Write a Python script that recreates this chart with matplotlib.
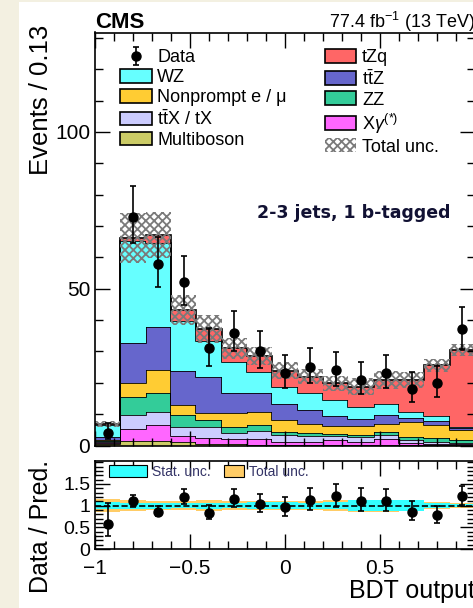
import numpy as np
import matplotlib.pyplot as plt
from matplotlib.patches import Patch, Rectangle
from matplotlib.ticker import MultipleLocator, FixedLocator, FuncFormatter

plt.rcParams['font.family'] = ['Liberation Sans', 'DejaVu Sans']
plt.rcParams['mathtext.fontset'] = 'custom'
plt.rcParams['mathtext.rm'] = 'Liberation Sans'
plt.rcParams['mathtext.it'] = 'Liberation Sans:italic'
plt.rcParams['mathtext.bf'] = 'Liberation Sans:bold'
plt.rcParams['hatch.linewidth'] = 1.3

# 15 bins of BDT output
edges = np.linspace(-1, 1, 16)

# expected yields per process (stacked bottom -> top)
multiboson = [0.4, 1.4, 1.5, 1.1, 0.5, 0.4, 0.3, 0.3, 0.3, 0.3, 0.3, 0.3, 0.2, 0.2, 0.2]
xgamma     = [0.4, 3.8, 5.0, 1.8, 2.0, 1.6, 1.7, 0.9, 0.7, 1.5, 0.9, 1.7, 0.6, 0.3, 0.3]
ttx        = [0.3, 4.4, 4.3, 3.1, 3.3, 2.0, 2.5, 2.0, 2.0, 1.2, 1.6, 1.4, 1.0, 0.5, 0.3]
zz         = [0.3, 5.9, 6.1, 3.6, 2.4, 2.0, 2.0, 1.1, 1.0, 0.6, 0.6, 0.9, 1.0, 1.3, 1.0]
nonprompt  = [0.3, 4.5, 7.2, 3.2, 2.3, 4.4, 4.1, 3.7, 3.0, 2.6, 2.7, 2.7, 4.6, 4.2, 3.2]
ttz        = [1.1, 12.6, 13.8, 11.1, 11.5, 6.3, 6.0, 5.3, 4.3, 3.2, 2.5, 2.7, 1.5, 1.3, 0.5]
wz         = [3.6, 32.6, 26.7, 15.7, 11.2, 9.9, 6.9, 5.2, 5.5, 5.2, 3.6, 3.6, 1.7, 1.7, 0.5]
tzq        = [0.4, 1.0, 2.6, 3.7, 3.9, 4.4, 5.1, 5.4, 5.2, 5.2, 6.6, 7.6, 10.3, 16.1, 24.5]

# observed events with asymmetric (Poisson) errors
data    = np.array([4, 73, 58, 52, 31, 36, 30, 23, 25, 24, 21, 23, 18, 20, 37])
data_dn = np.array([1.9, 8.5, 7.6, 7.2, 5.5, 6.0, 5.4, 4.8, 5.0, 4.9, 4.6, 4.8, 4.2, 4.4, 6.1])
data_up = np.array([3.2, 9.6, 8.6, 8.3, 6.6, 7.0, 6.5, 5.8, 6.0, 5.9, 5.6, 5.8, 5.3, 5.5, 7.1])

# relative uncertainties on the prediction
tot_unc  = np.array([0.15, 0.12, 0.11, 0.11, 0.12, 0.11, 0.10, 0.11, 0.11, 0.12, 0.14, 0.14, 0.12, 0.08, 0.06])
stat_unc = np.array([0.08, 0.07, 0.07, 0.065, 0.07, 0.065, 0.085, 0.08, 0.07, 0.085, 0.12, 0.12, 0.12, 0.05, 0.04])

procs = [
    (multiboson, '#cccc66', 'Multiboson'),
    (xgamma, '#ff66ff', r'X$\gamma^{(*)}$'),
    (ttx, '#ccccff', r't$\bar{\mathrm{t}}$X / tX'),
    (zz, '#33cc99', 'ZZ'),
    (nonprompt, '#ffcc33', 'Nonprompt e / \u03bc'),
    (ttz, '#6666cc', r't$\bar{\mathrm{t}}$Z'),
    (wz, '#66ffff', 'WZ'),
    (tzq, '#ff6666', 'tZq'),
]

W, H = 473, 608
fig = plt.figure(figsize=(W / 100, H / 100), dpi=100)
fig.patch.set_facecolor('#f3f0e1')
fig.add_artist(Rectangle((19 / W, 0), 1, 1 - 2 / H, transform=fig.transFigure,
                         facecolor='white', edgecolor='none', zorder=-10))

ax = fig.add_axes([95 / W, (H - 445.5) / H, 380 / W, 413 / H])
rax = fig.add_axes([95 / W, (H - 549) / H, 380 / W, 88 / H])

bottom = np.zeros(len(edges) - 1)
patches = {}
for vals, col, lab in procs:
    top = bottom + np.array(vals)
    ax.stairs(top, edges, baseline=bottom, fill=True, color=col, lw=0)
    ax.stairs(top, edges, baseline=None, color='black', lw=1.2)
    patches[lab] = Patch(facecolor=col, edgecolor='black', lw=1.2)
    bottom = top
total = bottom

hatch_col = '#7a7a7a'
ax.stairs(total * (1 + tot_unc), edges, baseline=total * (1 - tot_unc), fill=True,
          facecolor='none', edgecolor=hatch_col, hatch='xxxx', lw=0)

centers = 0.5 * (edges[1:] + edges[:-1])
eb = ax.errorbar(centers, data, yerr=[data_dn, data_up], fmt='o', color='black',
                 ms=6.5, lw=1.2, capsize=2.5, capthick=1.2, zorder=5)

ax.set_xlim(-1, 1)
ax.set_ylim(0, 131.7)
ax.yaxis.set_major_locator(MultipleLocator(50))
ax.yaxis.set_minor_locator(MultipleLocator(10))
ax.tick_params(labelbottom=False)

# legends
h1 = [eb, patches['WZ'], patches['Nonprompt e / \u03bc'],
      patches[r't$\bar{\mathrm{t}}$X / tX'], patches['Multiboson']]
l1 = ['Data', 'WZ', 'Nonprompt e / \u03bc', r't$\bar{\mathrm{t}}$X / tX', 'Multiboson']
unc_patch = Patch(facecolor='white', edgecolor=hatch_col, hatch='xxxx', lw=0)
h2 = [patches['tZq'], patches[r't$\bar{\mathrm{t}}$Z'], patches['ZZ'],
      patches[r'X$\gamma^{(*)}$'], unc_patch]
l2 = ['tZq', r't$\bar{\mathrm{t}}$Z', 'ZZ', r'X$\gamma^{(*)}$', 'Total unc.']
legkw = dict(loc='upper left', frameon=False, fontsize=13, borderpad=0, borderaxespad=0,
             handlelength=1.75, handleheight=0.8, handletextpad=0.3, labelspacing=0.16)
leg1 = ax.legend(h1, l1, bbox_to_anchor=(0.066, 0.96), **legkw)
ax.add_artist(leg1)
ax.legend(h2, l2, bbox_to_anchor=(0.605, 0.96), **legkw)

ax.text(0.426, 0.563, '2-3 jets, 1 b-tagged', transform=ax.transAxes, ha='left',
        va='center', fontsize=12.5, fontweight='bold', family='DejaVu Sans', color='#111133')
ax.text(0.0, 1.012, 'CMS', transform=ax.transAxes, ha='left', va='baseline',
        fontsize=16, fontweight='bold')
ax.text(1.0, 1.011, r'77.4 fb$^{-1}$ (13 TeV)', transform=ax.transAxes, ha='right',
        va='baseline', fontsize=13)
ax.set_ylabel('Events / 0.13', loc='top', fontsize=18.5)
ax.yaxis.set_label_coords(-0.11, 1.018)

# ratio panel
rax.stairs(1 + tot_unc, edges, baseline=1 - tot_unc, fill=True, color='#ffcc66', lw=0)
rax.stairs(1 + stat_unc, edges, baseline=1 - stat_unc, fill=True, color='#33ffff', lw=0)
rax.axhline(1, color='black', ls='--', lw=1.2)
rax.errorbar(centers, data / total, yerr=[data_dn / total, data_up / total], fmt='o',
             color='black', ms=6.5, lw=1.2, capsize=2.5, capthick=1.2, zorder=5)
rax.set_xlim(-1, 1)
rax.set_ylim(0, 2.03)
rax.yaxis.set_major_locator(FixedLocator([0, 0.5, 1, 1.5]))
rax.yaxis.set_minor_locator(MultipleLocator(0.1))
fmt = FuncFormatter(lambda v, p: f'{v:g}'.replace('-', '\u2212'))
rax.yaxis.set_major_formatter(fmt)

rkw = dict(loc='upper left', frameon=False, fontsize=10, borderpad=0, borderaxespad=0,
           handleheight=0.95, handletextpad=0.35, labelcolor='#333366')
rl1 = rax.legend([Patch(facecolor='#33ffff', edgecolor='black', lw=0.8)], ['Stat. unc.'],
                 bbox_to_anchor=(0.037, 0.955), handlelength=2.75, **rkw)
rax.add_artist(rl1)
rax.legend([Patch(facecolor='#ffcc66', edgecolor='black', lw=0.8)], ['Total unc.'],
           bbox_to_anchor=(0.34, 0.955), handlelength=1.45, **rkw)

rax.set_ylabel('Data / Pred.', loc='top', fontsize=18)
rax.yaxis.set_label_coords(-0.11, 1.01)
rax.set_xlabel('BDT output', loc='right', fontsize=18)
rax.xaxis.set_label_coords(1.0, -0.34)

for a in (ax, rax):
    a.xaxis.set_major_locator(MultipleLocator(0.5))
    a.xaxis.set_minor_locator(MultipleLocator(0.1))
    a.tick_params(which='both', direction='in', top=True, right=True, width=1)
    a.tick_params(which='major', length=11, labelsize=15)
    a.tick_params(which='minor', length=5.5)
    for s in a.spines.values():
        s.set_linewidth(1.2)
rax.tick_params(axis='y', which='major', labelsize=14)
rax.tick_params(axis='x', which='major', pad=7)
# the +1 label sits on the cropped right edge, so label only up to 0.5
rax.xaxis.set_major_formatter(FuncFormatter(
    lambda v, p: '' if v > 0.9 else f'{v:g}'.replace('-', '\u2212')))

fig.savefig('out.png', dpi=100, facecolor=fig.get_facecolor())
